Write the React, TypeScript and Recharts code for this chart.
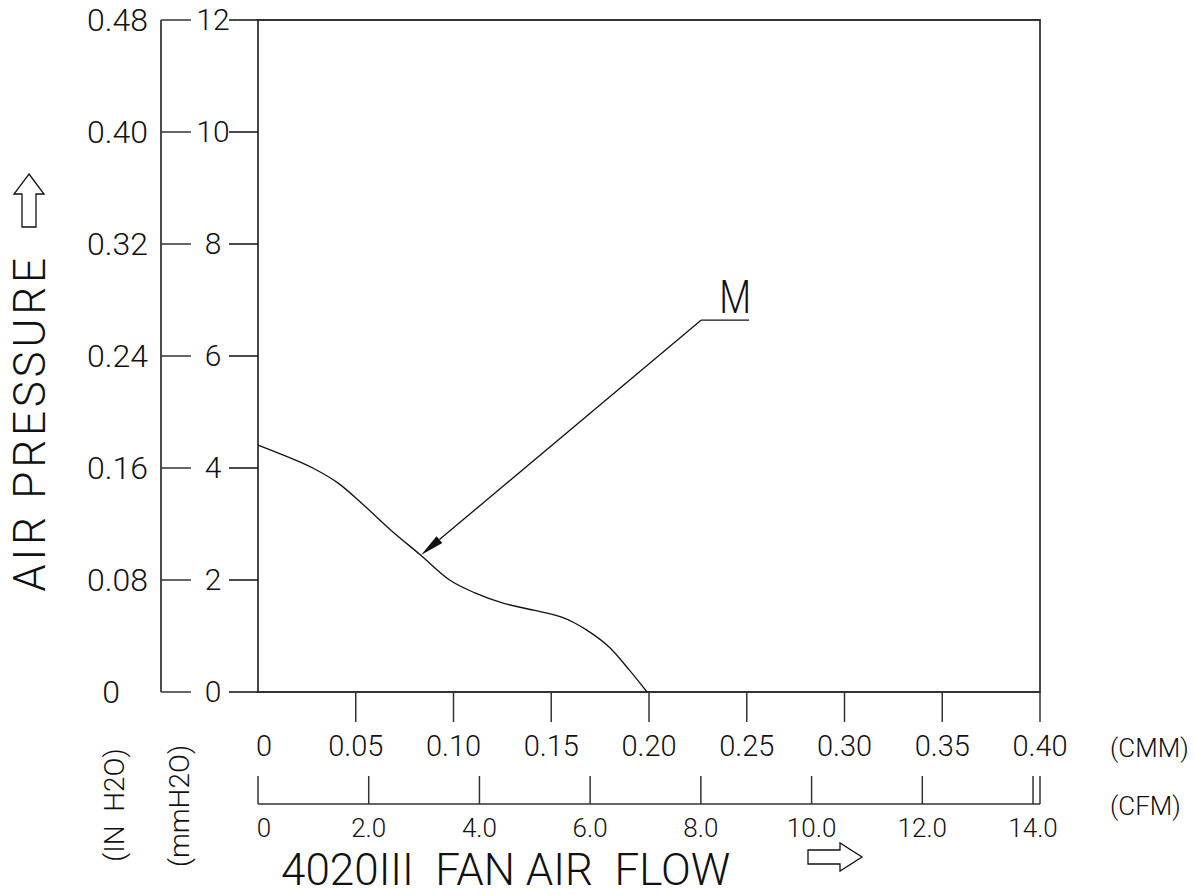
import React from 'react';
import { LineChart, Line, XAxis, YAxis, ReferenceArea, ReferenceLine } from 'recharts';

// fan curve: flow in CMM, static pressure in mmH2O
const cmmFlow = [0, 0.013, 0.028, 0.041, 0.054, 0.068, 0.083, 0.098, 0.111, 0.125, 0.141, 0.155, 0.161, 0.168, 0.18, 0.19, 0.199];
const mmPressure = [4.41, 4.23, 4.0, 3.73, 3.34, 2.89, 2.45, 2.0, 1.77, 1.59, 1.46, 1.34, 1.25, 1.11, 0.79, 0.39, 0];

const cmmTicks = [0, 0.05, 0.1, 0.15, 0.2, 0.25, 0.3, 0.35, 0.4];
const cmmLabels = ['0', '0.05', '0.10', '0.15', '0.20', '0.25', '0.30', '0.35', '0.40'];
const cfmTicks = [0, 2, 4, 6, 8, 10, 12, 14];
const cfmLabels = ['0', '2.0', '4.0', '6.0', '8.0', '10.0', '12.0', '14.0'];
const mmTicks = [0, 2, 4, 6, 8, 10, 12];
const mmLabels = ['0', '2', '4', '6', '8', '10', '12'];
const inchTicks = [0, 0.08, 0.16, 0.24, 0.32, 0.4, 0.48];
const inchLabels = ['0', '0.08', '0.16', '0.24', '0.32', '0.40', '0.48'];

const CMM_MAX = 0.4;
const CFM_PER_CMM = 35.315;
const MM_MAX = 12;
const IN_MAX = 0.48;

// leader line for the "M" callout, in data units
const leader = [{ x: 0.2266, y: 6.64 }, { x: 0.0834, y: 2.446 }];
const shoulder = [{ x: 0.2266, y: 6.64 }, { x: 0.2512, y: 6.64 }];

const data = cmmFlow.map((cmm, i) => ({ cmm, mm: mmPressure[i] }));
// CFM scale shares the CMM axis range; its ticks are placed in CMM units, plus the end cap
const cfmTickPos = [...cfmTicks.map((v) => v / CFM_PER_CMM), CMM_MAX];

const INK = '#111';
const LINE = '#333';
const FONT = '"Roboto Light", Roboto, "DejaVu Sans", sans-serif';

const CmmTick = (props: any) => {
    const { x, y, index } = props;
    return (
        <g>
            {index > 0 && <line x1={x} y1={y} x2={x} y2={y + 30} stroke={LINE} strokeWidth={1.5} />}
            <text x={index === 0 ? x + 6 : x} y={y + 64} textAnchor="middle" fontSize={29} fontWeight={300} fontFamily={FONT} fill={INK}>
                {cmmLabels[index]}
            </text>
        </g>
    );
};

const CfmTick = (props: any) => {
    const { x, y, index } = props;
    return (
        <g>
            <line x1={x} y1={y - 28} x2={x} y2={y} stroke={LINE} strokeWidth={1.5} />
            {cfmLabels[index] && (
                <text x={index === 0 ? x + 6 : x} y={y + 33} textAnchor="middle" fontSize={26} fontWeight={300} fontFamily={FONT} fill={INK}>
                    {cfmLabels[index]}
                </text>
            )}
        </g>
    );
};

const MmTick = (props: any) => {
    const { x, y, index } = props;
    return (
        <g>
            <line x1={x - 29} y1={y} x2={x} y2={y} stroke={INK} strokeWidth={1.5} />
            <text x={x - 45} y={y + 10} textAnchor="middle" fontSize={30} fontWeight={300} fontFamily={FONT} fill={INK}>
                {mmLabels[index]}
            </text>
        </g>
    );
};

const InchTick = (props: any) => {
    const { x, y, index } = props;
    return (
        <g>
            <line x1={x} y1={y} x2={x + 30} y2={y} stroke={LINE} strokeWidth={1.5} />
            <text
                x={index === 0 ? x - 50 : x - 13}
                y={y + 11}
                textAnchor={index === 0 ? 'middle' : 'end'}
                fontSize={32}
                fontWeight={300}
                fontFamily={FONT}
                fill={INK}
            >
                {inchLabels[index]}
            </text>
        </g>
    );
};

const ArrowShape = (props: any) => {
    const { x1, y1, x2, y2 } = props;
    const dx = x2 - x1;
    const dy = y2 - y1;
    const len = Math.sqrt(dx * dx + dy * dy) || 1;
    const ux = dx / len;
    const uy = dy / len;
    const bx = x2 - ux * 24;
    const by = y2 - uy * 24;
    const head = `${x2},${y2} ${bx - uy * 4.5},${by + ux * 4.5} ${bx + uy * 4.5},${by - ux * 4.5}`;
    return (
        <g>
            <line x1={x1} y1={y1} x2={bx} y2={by} stroke={INK} strokeWidth={1.3} />
            <polygon points={head} fill={INK} />
        </g>
    );
};

const ShoulderShape = (props: any) => {
    const { x1, y1, x2, y2 } = props;
    const cx = (x1 + x2) / 2;
    return (
        <g>
            <line x1={x1} y1={y1} x2={x2} y2={y2} stroke={INK} strokeWidth={1.3} />
            <text x={0} y={0} transform={`translate(${cx + 10},${y1 - 7}) scale(0.8,1)`} textAnchor="middle" fontSize={46} fontWeight={300} fontFamily={FONT} fill={INK}>
                M
            </text>
        </g>
    );
};

const App: React.FC = () => {
    return (
        <div style={{ position: 'absolute', left: 0, top: 0, width: 1194, height: 895, background: '#fff' }}>
            <LineChart width={1194} height={895} data={data} margin={{ top: 20, right: 154, bottom: 31, left: 0 }}>
                <XAxis
                    dataKey="cmm"
                    type="number"
                    domain={[0, CMM_MAX]}
                    ticks={cmmTicks}
                    interval={0}
                    height={112}
                    tickSize={0}
                    tickMargin={0}
                    axisLine={false}
                    tickLine={false}
                    tick={(p: any) => <CmmTick {...p} />}
                />
                <XAxis
                    xAxisId="cfm"
                    dataKey="cmm"
                    type="number"
                    domain={[0, CMM_MAX]}
                    ticks={cfmTickPos}
                    interval={0}
                    height={60}
                    tickSize={0}
                    tickMargin={0}
                    axisLine={{ stroke: LINE, strokeWidth: 1.5 }}
                    tickLine={false}
                    tick={(p: any) => <CfmTick {...p} />}
                />
                <YAxis
                    type="number"
                    domain={[0, MM_MAX]}
                    ticks={mmTicks}
                    interval={0}
                    width={97}
                    tickSize={0}
                    tickMargin={0}
                    axisLine={false}
                    tickLine={false}
                    tick={(p: any) => <MmTick {...p} />}
                />
                <YAxis
                    yAxisId="in"
                    type="number"
                    domain={[0, IN_MAX]}
                    ticks={inchTicks}
                    interval={0}
                    allowDataOverflow
                    width={161}
                    tickSize={0}
                    tickMargin={0}
                    axisLine={{ stroke: INK, strokeWidth: 1.5 }}
                    tickLine={false}
                    tick={(p: any) => <InchTick {...p} />}
                />
                <ReferenceArea x1={0} x2={CMM_MAX} y1={0} y2={MM_MAX} fill="none" fillOpacity={0} stroke={LINE} strokeWidth={1.8} />
                <Line dataKey="mm" type="monotone" stroke={INK} strokeWidth={1.3} dot={false} activeDot={false} isAnimationActive={false} />
                <ReferenceLine segment={leader} shape={(p: any) => <ArrowShape {...p} />} />
                <ReferenceLine segment={shoulder} shape={(p: any) => <ShoulderShape {...p} />} />
            </LineChart>
            <svg width={1194} height={895} style={{ position: 'absolute', left: 0, top: 0, pointerEvents: 'none' }}>
                <g fontFamily={FONT} fontWeight={300} fill={INK}>
                    <text transform="translate(45,423) rotate(-90)" textAnchor="middle" fontSize={44} letterSpacing={3.8}>
                        AIR PRESSURE
                    </text>
                    <polygon points="29,174 44,194 36,194 36,227 22,227 22,194 14,194" fill="none" stroke={INK} strokeWidth={1.3} />
                    <text transform="translate(124,805) rotate(-90)" textAnchor="middle" fontSize={28} style={{ whiteSpace: 'pre' }}>
                        (IN  H2O)
                    </text>
                    <text transform="translate(189,806) rotate(-90)" textAnchor="middle" fontSize={28}>
                        (mmH2O)
                    </text>
                    <text x={1110} y={757} fontSize={26}>
                        (CMM)
                    </text>
                    <text x={1110} y={815} fontSize={26}>
                        (CFM)
                    </text>
                    <text transform="translate(281,885)" fontSize={44} style={{ whiteSpace: 'pre' }}>
                        4020III  FAN AIR  FLOW
                    </text>
                    <polygon points="808,850 840,850 840,843 862,857 840,871 840,864 808,864" fill="none" stroke={INK} strokeWidth={1.3} />
                </g>
            </svg>
        </div>
    );
};

export default App;
